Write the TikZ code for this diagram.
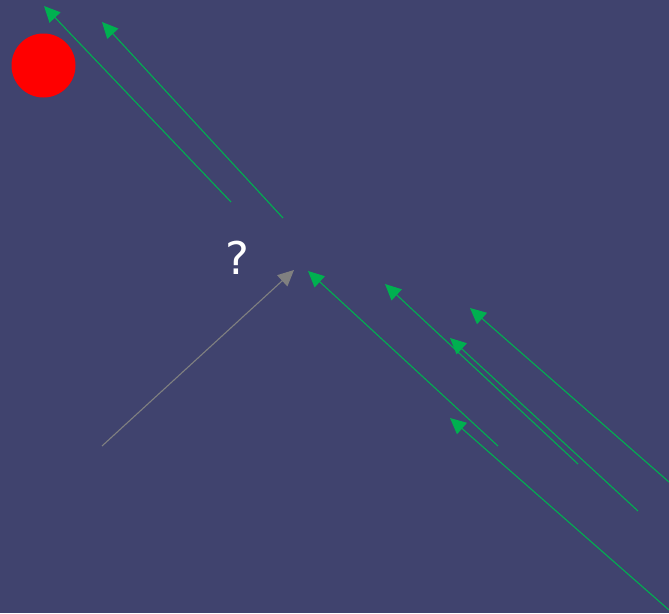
\documentclass[tikz,border=0pt]{standalone}
\usepackage{fontspec}
\setmainfont{DejaVu Sans}
\usetikzlibrary{arrows.meta}
\definecolor{bg}{HTML}{40436E}
\definecolor{arrgreen}{HTML}{00B050}
\definecolor{arrgray}{HTML}{808080}
\tikzset{
  garrow/.style={draw=arrgreen, line width=1.1pt, -{Triangle[length=16pt,width=15pt]}},
  grayarrow/.style={draw=arrgray, line width=1.1pt, -{Triangle[length=16pt,width=15pt]}},
}
\begin{document}
\begin{tikzpicture}[x=1pt,y=-1pt]
\fill[bg] (0,0) rectangle (669,613);
\useasboundingbox (0,0) rectangle (669,613);
\node[circle, fill=red, minimum size=64pt, inner sep=0pt] (ball) at (43.5,65.5) {};
\node[text=white, font=\fontsize{45}{50}\selectfont, inner sep=0pt] (q) at (237,258) {?};
% green arrows
\coordinate (a1s) at (231,202); \coordinate (a1e) at (44,6);
\coordinate (a2s) at (283,218); \coordinate (a2e) at (102,22);
\coordinate (a3s) at (498,446); \coordinate (a3e) at (308,271);
\coordinate (a4s) at (578,464); \coordinate (a4e) at (385,284);
\coordinate (a5s) at (638,511); \coordinate (a5e) at (450,338);
\coordinate (a6s) at (669,482); \coordinate (a6e) at (470,308);
\coordinate (a7s) at (669,610); \coordinate (a7e) at (450,418);
\coordinate (gs) at (102,446); \coordinate (ge) at (294,270);
\draw[garrow] (a1s) -- (a1e);
\draw[garrow] (a2s) -- (a2e);
\draw[garrow] (a3s) -- (a3e);
\draw[garrow] (a4s) -- (a4e);
\draw[garrow] (a5s) -- (a5e);
\draw[garrow] (a6s) -- (a6e);
\draw[garrow] (a7s) -- (a7e);
\draw[grayarrow] (gs) -- (ge);
\end{tikzpicture}
\end{document}
